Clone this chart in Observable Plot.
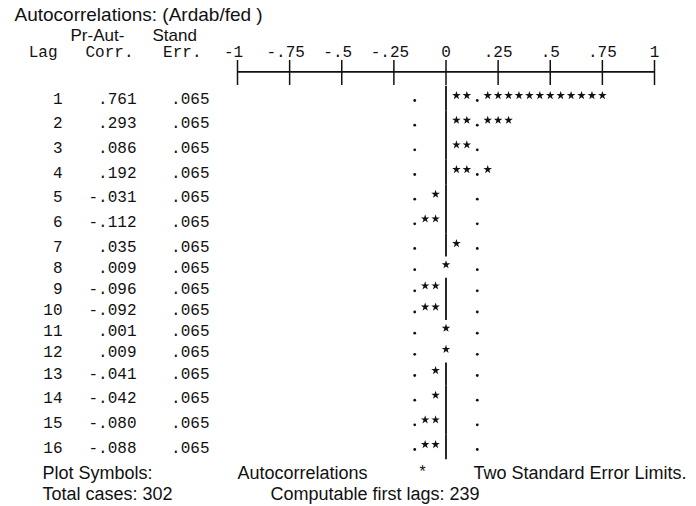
<!DOCTYPE html>
<html>
<head>
<meta charset="utf-8">
<script src="https://cdn.jsdelivr.net/npm/d3@7"></script>
<script src="https://cdn.jsdelivr.net/npm/@observablehq/plot@0.6"></script>
<style>
  body { margin: 0; background: #fff; }
  #chart svg { display: block; }
</style>
</head>
<body>
<div id="chart"></div>
<script>
// ---- data ----
const lags = [1, 2, 3, 4, 5, 6, 7, 8, 9, 10, 11, 12, 13, 14, 15, 16];
const prAutCorr = [0.761, 0.293, 0.086, 0.192, -0.031, -0.112, 0.035, 0.009,
                   -0.096, -0.092, 0.001, 0.009, -0.041, -0.042, -0.080, -0.088];
const standErr = [0.065, 0.065, 0.065, 0.065, 0.065, 0.065, 0.065, 0.065,
                  0.065, 0.065, 0.065, 0.065, 0.065, 0.065, 0.065, 0.065];
const axisTicks = [-1, -0.75, -0.5, -0.25, 0, 0.25, 0.5, 0.75, 1];
const tickLabels = ["-1", "-.75", "-.5", "-.25", "0", ".25", ".5", ".75", "1"];
const titleText = "Autocorrelations: (Ardab/fed )";
const header1 = ["Pr-Aut-", "Stand"];
const header2 = ["Lag", "Corr.", "Err."];
const totalCases = 302;
const computableLags = 239;

// character cell of the text plot (correlation units per symbol)
const cell = 0.05;

const fmt = v => {
  const s = d3.format(".3f")(Math.abs(v)).replace(/^0/, "");
  return (v < 0 ? "-" : "") + s;
};

const rows = lags.map((lag, i) => ({lag, r: prAutCorr[i], se: standErr[i]}));

// stars and limit dots, derived from the values
const stars = [];
const limits = [];
const zeroLine = [];
for (const d of rows) {
  const n = Math.round(Math.abs(d.r) / cell);
  const lim = Math.round(2 * d.se / cell);
  const sgn = d.r < 0 ? -1 : 1;
  if (n === 0) stars.push({lag: d.lag, x: 0});
  else zeroLine.push(d);
  for (let k = 1; k <= n; k++) if (k !== lim) stars.push({lag: d.lag, x: sgn * k * cell});
  limits.push({lag: d.lag, x: -lim * cell});
  limits.push({lag: d.lag, x: lim * cell});
}

const sans = "Liberation Sans, Arial, sans-serif";
const mono = "Liberation Mono, Courier New, monospace";
const ink = "#111";
const monoSize = 16;

const negTicks = axisTicks.map((t, i) => ({t, label: tickLabels[i]})).filter(d => d.t < 0);
const posTicks = axisTicks.map((t, i) => ({t, label: tickLabels[i]})).filter(d => d.t >= 0);

const label = (txt, dx, dy, opts = {}) =>
  Plot.text([txt], {frameAnchor: "top-left", dx, dy, textAnchor: "start", lineAnchor: "middle",
    fontSize: 18, fontFamily: sans, fill: ink, ...opts});

const chart = Plot.plot({
  width: 696,
  height: 506,
  margin: 0,
  style: {background: "#fff", color: ink},
  x: {type: "linear", domain: [-1, 1], range: [237, 654], axis: null},
  y: {type: "linear", domain: [1, 7, 13, 16], range: [98, 246, 373, 447], axis: null},
  marks: [
    // title and headers
    label(titleText, 14, 14, {fontSize: 19}),
    label(header1[0], 70, 35, {fontSize: 17}),
    label(header1[1], 152, 35, {fontSize: 17}),
    label(header2[0], 57, 51, {textAnchor: "end", fontSize: monoSize, fontFamily: mono}),
    label(header2[1], 133, 51, {textAnchor: "end", fontSize: monoSize, fontFamily: mono}),
    label(header2[2], 201, 51, {textAnchor: "end", fontSize: monoSize, fontFamily: mono}),

    // axis: labels, ticks, line
    Plot.text(negTicks, {x: "t", text: "label", frameAnchor: "top", lineAnchor: "middle", dy: 51, dx: -4,
      fontSize: monoSize, fontFamily: mono, fill: ink}),
    Plot.text(posTicks, {x: "t", text: "label", frameAnchor: "top", lineAnchor: "middle", dy: 51,
      fontSize: monoSize, fontFamily: mono, fill: ink}),
    Plot.ruleX(axisTicks, {x: d => d, insetTop: 60, insetBottom: 421, stroke: ink, strokeWidth: 1.5}),
    Plot.ruleY([0], {x1: -1, x2: 1, dy: -2, stroke: ink, strokeWidth: 1.6}),

    // table columns
    Plot.text(rows, {y: "lag", text: d => String(d.lag), frameAnchor: "left", dx: 62,
      textAnchor: "end", fontSize: monoSize, fontFamily: mono, fill: ink}),
    Plot.text(rows, {y: "lag", text: d => fmt(d.r), frameAnchor: "left", dx: 136,
      textAnchor: "end", fontSize: monoSize, fontFamily: mono, fill: ink}),
    Plot.text(rows, {y: "lag", text: d => fmt(d.se), frameAnchor: "left", dx: 209,
      textAnchor: "end", fontSize: monoSize, fontFamily: mono, fill: ink}),

    // zero line
    Plot.ruleX(zeroLine, {x: 0, y1: d => d.lag - 0.5, y2: d => d.lag + 0.5, stroke: ink, strokeWidth: 1.8}),

    // two standard error limits
    Plot.dot(limits, {x: "x", y: "lag", dy: 2, r: 1.4, fill: ink, stroke: null}),

    // autocorrelation stars
    Plot.dot(stars, {x: "x", y: "lag", dy: -3, symbol: "star", r: 2.7, fill: ink, stroke: null}),

    // legend / footer
    label("Plot Symbols:", 42, 473),
    label("Autocorrelations", 237, 473),
    label("*", 422, 471, {textAnchor: "middle", fontSize: 16, fontFamily: mono}),
    label("Two Standard Error Limits.", 473, 473),
    label(`Total cases: ${totalCases}`, 42, 494),
    label(`Computable first lags: ${computableLags}`, 270, 494)
  ]
});

document.getElementById("chart").append(chart);
</script>
</body>
</html>
